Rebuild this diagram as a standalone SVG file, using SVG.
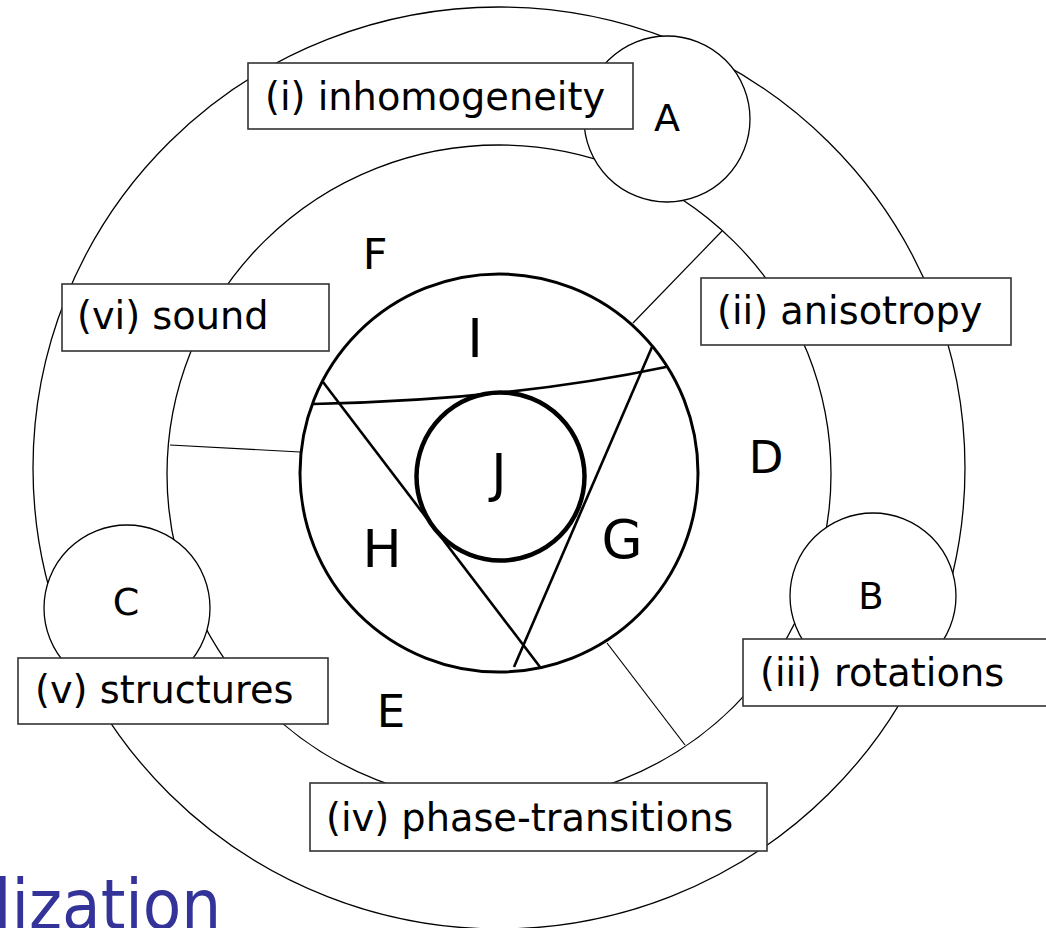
<svg xmlns="http://www.w3.org/2000/svg" width="1046" height="928" viewBox="0 0 1046 928">
<style>
.ring{fill:none;stroke:#000;stroke-width:1.3}
.div{fill:none;stroke:#000;stroke-width:1.2}
.chord{fill:none;stroke:#000;stroke-width:2.6}
.small{fill:#fff;stroke:#000;stroke-width:1.3}
.box{fill:#fff;stroke:#333;stroke-width:1.6}
.t{font-family:"DejaVu Sans","Liberation Sans",sans-serif;font-size:38.3px;fill:#000}
.lbl{font-family:"DejaVu Sans","Liberation Sans",sans-serif;fill:#000;text-anchor:middle}
</style>
<rect x="0" y="0" width="1046" height="928" fill="#fff"/>
<g id="rings">
<ellipse class="ring" cx="499" cy="468" rx="466" ry="461"/>
<ellipse class="ring" cx="499" cy="474" rx="332" ry="329"/>
</g>
<g id="connectors">
<line class="div" x1="633" y1="323" x2="722" y2="231"/>
<line class="div" x1="170" y1="445" x2="300" y2="452"/>
<line class="div" x1="607" y1="643" x2="685" y2="745"/>
</g>
<g id="core">
<circle cx="499" cy="473" r="199" fill="none" stroke="#000" stroke-width="3"/>
<path class="chord" d="M313,404 Q510,400 666,367"/>
<line class="chord" x1="323" y1="382" x2="540" y2="667"/>
<line class="chord" x1="652" y1="347" x2="514" y2="667"/>
<circle cx="500.5" cy="476.5" r="84" fill="none" stroke="#000" stroke-width="4.5"/>
</g>
<g id="node-A"><circle class="small" cx="667" cy="119" r="83"/><text class="lbl" x="667" y="131" font-size="38">A</text></g>
<g id="node-B"><circle class="small" cx="873" cy="596" r="83"/><text class="lbl" x="871" y="609" font-size="37">B</text></g>
<g id="node-C"><circle class="small" cx="127" cy="608" r="83"/><text class="lbl" x="126" y="615" font-size="38">C</text></g>
<g id="box-i"><rect class="box" x="248" y="63" width="385" height="66"/><text class="t" x="265" y="110">(i) inhomogeneity</text></g>
<g id="box-ii"><rect class="box" x="701" y="278" width="310" height="67"/><text class="t" x="717" y="324">(ii) anisotropy</text></g>
<g id="box-vi"><rect class="box" x="62" y="284" width="267" height="67"/><text class="t" x="77" y="329">(vi) sound</text></g>
<g id="box-v"><rect class="box" x="18" y="658" width="310" height="66"/><text class="t" x="35" y="703">(v) structures</text></g>
<g id="box-iii"><rect class="box" x="743" y="639" width="330" height="67"/><text class="t" x="760" y="686">(iii) rotations</text></g>
<g id="box-iv"><rect class="box" x="310" y="783" width="457" height="68"/><text class="t" x="326" y="831">(iv) phase-transitions</text></g>
<g id="regions">
<text class="lbl" x="375" y="269" font-size="43">F</text>
<text class="lbl" x="766" y="473" font-size="45">D</text>
<text class="lbl" x="391" y="727" font-size="45">E</text>
<text class="lbl" x="475" y="357" font-size="53">I</text>
<text class="lbl" x="499" y="491" font-size="52">J</text>
<text class="lbl" x="382" y="567" font-size="52">H</text>
<text class="lbl" x="622" y="558" font-size="53">G</text>
</g>
<text x="-6" y="929" font-family="DejaVu Sans Condensed,DejaVu Sans,sans-serif" font-stretch="condensed" font-size="70" fill="#333399">lization</text>
</svg>
